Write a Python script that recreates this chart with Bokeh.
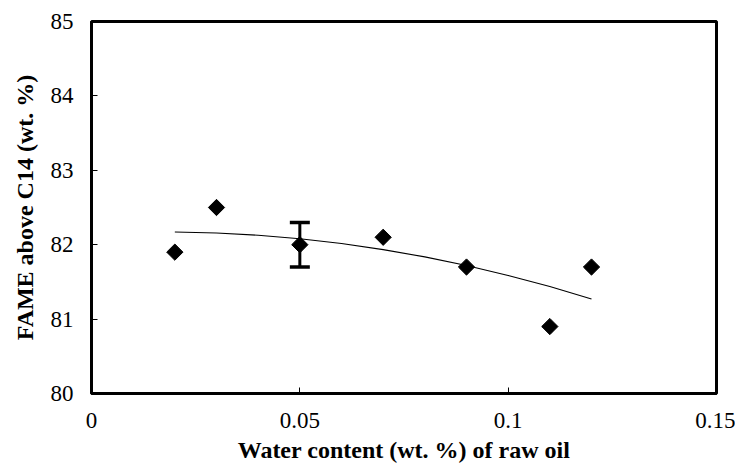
import math
from bokeh.plotting import figure
from bokeh.models import ColumnDataSource, Whisker, TeeHead, FixedTicker, Range1d
from bokeh.embed import file_html
from bokeh.resources import INLINE

# Data
water = [0.02, 0.03, 0.05, 0.07, 0.09, 0.11, 0.12]
fame = [81.9, 82.5, 82.0, 82.1, 81.7, 80.9, 81.7]

err_x = [0.05]
err_lower = [81.7]
err_upper = [82.3]

trend_x = [0.02, 0.03, 0.04, 0.05, 0.06, 0.07, 0.08, 0.09, 0.10, 0.11, 0.12]
trend_y = [82.17, 82.157, 82.127, 82.08, 82.016, 81.934, 81.836, 81.72, 81.587, 81.437, 81.27]

x_ticks = [0, 0.05, 0.1, 0.15]
x_tick_labels = {0: "0", 0.05: "0.05", 0.1: "0.1", 0.15: "0.15"}
y_ticks = [80, 81, 82, 83, 84, 85]

FONT = "'Liberation Serif', 'Times New Roman', serif"
TICK_FONT = "Times New Roman"

p = figure(width=735, height=466, output_backend="svg", toolbar_location=None,
           x_range=Range1d(0, 0.15), y_range=Range1d(80, 85),
           min_border_left=91, min_border_right=735 - 716, min_border_top=21,
           min_border_bottom=466 - 393)

p.xgrid.visible = False
p.ygrid.visible = False
p.outline_line_color = "black"
p.outline_line_width = 3
p.background_fill_color = "white"
p.border_fill_color = "white"

# trend line
p.line(trend_x, trend_y, line_color="black", line_width=1.1)

# error bar
esrc = ColumnDataSource(dict(x=err_x, lower=err_lower, upper=err_upper))
w = Whisker(source=esrc, base="x", lower="lower", upper="upper", dimension="height",
            line_color="black", line_width=3,
            upper_head=TeeHead(size=20, line_color="black", line_width=3.5),
            lower_head=TeeHead(size=20, line_color="black", line_width=3.5))
p.add_layout(w)

# data points (diamonds)
p.scatter(water, fame, marker="square", angle=math.pi / 4, size=11.5,
          fill_color="black", line_color="black")

for ax in (p.xaxis[0], p.yaxis[0]):
    ax.axis_line_width = 3
    ax.axis_line_color = "black"
    ax.major_tick_in = 6
    ax.major_tick_out = 0
    ax.major_tick_line_color = "black"
    ax.major_tick_line_width = 1
    ax.minor_tick_line_color = None
    ax.major_label_text_font = TICK_FONT
    ax.major_label_text_font_size = "23px"
    ax.major_label_text_color = "black"
    ax.axis_label_text_font = FONT
    ax.axis_label_text_font_size = "24px"
    ax.axis_label_text_font_style = "bold"
    ax.axis_label_text_color = "black"

p.xaxis.ticker = FixedTicker(ticks=x_ticks)
p.xaxis.major_label_overrides = x_tick_labels
p.yaxis.ticker = FixedTicker(ticks=y_ticks)
p.xaxis.axis_label = "Water content (wt. %) of raw oil"
p.yaxis.axis_label = "FAME above C14 (wt. %)"
p.xaxis.major_label_standoff = 19
p.yaxis.major_label_standoff = 18
p.xaxis.axis_label_standoff = 6
p.yaxis.axis_label_standoff = 10

open("out.html", "w").write(file_html(p, INLINE))
